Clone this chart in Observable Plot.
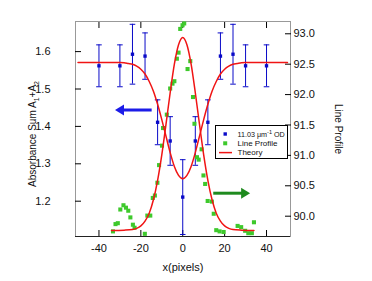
<!DOCTYPE html>
<html><head><meta charset="utf-8">
<script src="https://cdn.jsdelivr.net/npm/d3@7"></script>
<script src="https://cdn.jsdelivr.net/npm/@observablehq/plot@0.6"></script>
<style>
html,body{margin:0;padding:0;background:#fff;}
#chart{width:372px;height:281px;}
</style></head><body><div id="chart"></div>
<script>
// ---- data ----
const absX   = [-40, -30, -24, -18, -12, -6, 0, 6, 12, 18, 24, 30, 40];
const absY   = [1.562, 1.562, 1.593, 1.588, 1.411, 1.361, 1.211, 1.361, 1.411, 1.588, 1.593, 1.562, 1.562];
const absErr = [0.056, 0.056, 0.080, 0.062, 0.060, 0.065, 0.100, 0.065, 0.060, 0.062, 0.080, 0.056, 0.056];

const profX = [-33.3,-32.1,-31.0,-29.8,-28.3,-27.1,-26.0,-25.0,-23.8,-23.0,-18.1,-16.9,-15.5,-14.3,-13.3,-12.1,-11.3,-9.9,-9.4,-7.6,-6.0,-4.9,-4.0,-2.8,-2.0,-1.2,-0.1,0.7,2.3,3.6,4.9,5.6,6.8,7.6,9.0,9.9,10.7,11.9,13.9,14.8,16.0,17.6,19.5,26.2,27.9,29.8,31.3,33.0,34.0];
const profY = [89.75,89.87,89.885,90.11,90.18,90.14,90.09,89.98,89.86,89.81,89.71,90.01,90.01,90.30,90.34,90.55,90.84,91.16,91.45,91.67,92.10,92.18,92.22,92.59,92.69,93.08,93.14,93.17,92.42,92.55,91.96,91.52,90.97,90.93,91.10,90.67,90.53,90.25,90.24,90.04,89.77,89.75,89.74,89.84,89.82,89.76,89.72,89.72,89.90];

const absTheoryX = [-50,-40,-30,-28,-26,-24,-22,-20,-18,-16,-14,-12,-10,-8,-6,-4,-2,0,2,4,6,8,10,12,14,16,18,20,22,24,26,28,30,40,50];
const absTheoryY = [1.571,1.571,1.571,1.570,1.568,1.566,1.561,1.553,1.540,1.520,1.494,1.459,1.418,1.374,1.330,1.293,1.269,1.260,1.269,1.293,1.330,1.374,1.418,1.459,1.494,1.520,1.540,1.553,1.561,1.566,1.568,1.570,1.571,1.571,1.571];

const profTheoryX = [-34,-28,-24,-22,-20,-18,-16,-14,-12,-10,-8,-6,-4,-2,0,2,4,6,8,10,12,14,16,18,20,22,24,28,34];
const profTheoryY = [89.765,89.77,89.78,89.80,89.84,89.92,90.05,90.27,90.59,91.01,91.51,92.03,92.50,92.82,92.94,92.82,92.50,92.03,91.51,91.01,90.59,90.27,90.05,89.92,89.84,89.80,89.78,89.77,89.765];

const xTicks = [-40, -20, 0, 20, 40];
const leftTicks = [1.2, 1.3, 1.4, 1.5, 1.6];
const rightTicks = [90.0, 90.5, 91.0, 91.5, 92.0, 92.5, 93.0];

const legendLabels = ["11.03 \u03bcm", "Line Profile", "Theory"];
const xLabel = "x(pixels)";
const leftLabel = "Absorbance Sum A1+A2";
const rightLabel = "Line Profile";

// annotation arrows (data units)
const arrowAbs = {tail: -14.6, tip: -32.1, y: 1.4425};
const arrowProf = {tail: 14.8, tip: 32.4, r: 90.37};

// ---- scales ----
const xDomain = [-51.2, 51.45];
const leftDomain = [1.1056, 1.6805];
const rightDomain = [89.666, 93.202];
const k = (leftDomain[1] - leftDomain[0]) / (rightDomain[1] - rightDomain[0]);
const toLeft = r => leftDomain[0] + (r - rightDomain[0]) * k;
const fromLeft = v => rightDomain[0] + (v - leftDomain[0]) / k;

const BLUE = "#0a0ac8", GREEN = "#3ec92c", RED = "#f01414";

const absData = absX.map((x, i) => ({x, y: absY[i], e: absErr[i]}));
const caps = absData.flatMap(d => [{x: d.x, y: d.y + d.e}, {x: d.x, y: d.y - d.e}]);
const profData = profX.map((x, i) => ({x, y: toLeft(profY[i])}));
const absTheory = absTheoryX.map((x, i) => ({x, y: absTheoryY[i]}));
const profTheory = profTheoryX.map((x, i) => ({x, y: toLeft(profTheoryY[i])}));

const capSymbol = {draw(ctx) { ctx.moveTo(-2.8, 0); ctx.lineTo(2.8, 0); }};
const font = "'Liberation Sans', Arial, sans-serif";

const plot = Plot.plot({
  width: 372, height: 281,
  marginLeft: 75, marginRight: 82, marginTop: 21, marginBottom: 45,
  x: {domain: xDomain},
  y: {domain: leftDomain},
  style: {fontFamily: font, fontSize: "11px", background: "#fff", color: "#111"},
  marks: [
    Plot.frame({stroke: "#999"}),
    Plot.ruleY([leftDomain[0]], {stroke: "#222"}),
    // axes: labels
    Plot.axisX({anchor: "bottom", ticks: xTicks, tickSize: 0, tickPadding: 8, tickFormat: d => String(d), label: null, fontSize: 11}),
    Plot.axisY({anchor: "left", ticks: leftTicks, tickSize: 0, tickPadding: 25, tickFormat: d => d.toFixed(1), label: null, fontSize: 11}),
    Plot.axisY({anchor: "right", ticks: rightTicks.map(toLeft), tickSize: 0, tickPadding: 3, tickFormat: d => fromLeft(d).toFixed(1), label: null, fontSize: 11}),
    // axes: inner ticks
    Plot.axisX({anchor: "bottom", ticks: xTicks, tickSize: -6, tickFormat: () => "", label: null, stroke: "#000"}),
    Plot.axisX({anchor: "top", ticks: xTicks, tickSize: -6, tickFormat: () => "", label: null, stroke: "#000"}),
    Plot.axisY({anchor: "left", ticks: leftTicks, tickSize: -6, tickFormat: () => "", label: null, stroke: "#000"}),
    Plot.axisY({anchor: "right", ticks: rightTicks.map(toLeft), tickSize: -6, tickFormat: () => "", label: null, stroke: "#000"}),
    // data
    Plot.ruleX(absData, {x: "x", y1: d => d.y - d.e, y2: d => d.y + d.e, stroke: BLUE, strokeWidth: 1}),
    Plot.dot(caps, {x: "x", y: "y", symbol: capSymbol, stroke: BLUE, strokeWidth: 1, fill: "none"}),
    Plot.dot(profData, {x: "x", y: "y", symbol: "square", r: 2.3, fill: GREEN, stroke: null}),
    Plot.line(absTheory, {x: "x", y: "y", stroke: RED, strokeWidth: 1.5, curve: "monotone-x"}),
    Plot.line(profTheory, {x: "x", y: "y", stroke: RED, strokeWidth: 1.5, curve: "monotone-x"}),
    Plot.dot(absData, {x: "x", y: "y", symbol: "square", r: 1.9, fill: BLUE, stroke: null}),
    // axis titles
    Plot.text([xLabel], {text: d => d, frameAnchor: "bottom", dy: 31, textAnchor: "middle", lineAnchor: "middle", fontSize: 11, fill: "#111"}),
    Plot.text([leftLabel], {text: d => d, frameAnchor: "left", dx: -43, dy: 5, rotate: -90, textAnchor: "middle", lineAnchor: "middle", fontSize: 10, fill: "#111"}),
    Plot.text([rightLabel], {text: d => d, frameAnchor: "right", dx: 48, rotate: 90, textAnchor: "middle", lineAnchor: "middle", fontSize: 10, fill: "#111"})
  ]
});
document.getElementById("chart").appendChild(plot);

const svg = d3.select(plot);
// subscripts in the left title
svg.selectAll("text").filter(function() { return this.textContent === leftLabel; }).each(function() {
  const t = d3.select(this);
  t.text(null);
  t.append("tspan").text("Absorbance Sum A");
  t.append("tspan").attr("dy", 3).attr("font-size", 7).text("1");
  t.append("tspan").attr("dy", -3).text("+A");
  t.append("tspan").attr("dy", 3).attr("font-size", 7).text("2");
});

const sx = plot.scale("x"), sy = plot.scale("y");
function drawArrow(x1, x2, yPix, color) {
  const a = sx.apply(x1), b = sx.apply(x2);
  const dir = Math.sign(b - a), head = 9, half = 5.5;
  const base = b - dir * head;
  svg.append("line").attr("x1", a).attr("x2", base + dir * 1).attr("y1", yPix).attr("y2", yPix)
    .attr("stroke", color).attr("stroke-width", 3);
  svg.append("path").attr("d", `M${b},${yPix}L${base},${yPix - half}L${base},${yPix + half}Z`).attr("fill", color);
}
drawArrow(arrowAbs.tail, arrowAbs.tip, sy.apply(arrowAbs.y), "#1c1ce8");
drawArrow(arrowProf.tail, arrowProf.tip, sy.apply(toLeft(arrowProf.r)), "#1e8a1e");

// legend box
const lg = svg.append("g").attr("font-family", font).attr("font-size", 8).attr("fill", "#111").attr("text-anchor", "start");
const L = {x: 215.5, y: 125.5, w: 72, h: 33, row: 9.3, first: 134};
lg.append("rect").attr("x", L.x).attr("y", L.y).attr("width", L.w).attr("height", L.h).attr("fill", "#fff").attr("stroke", "#000");
const sym = [
  g => g.append("rect").attr("x", 223.5).attr("y", -1.7).attr("width", 3.4).attr("height", 3.4).attr("fill", BLUE),
  g => g.append("rect").attr("x", 223.2).attr("y", -2).attr("width", 4).attr("height", 4).attr("fill", GREEN),
  g => g.append("line").attr("x1", 219).attr("x2", 232).attr("stroke", RED).attr("stroke-width", 1.5)
];
legendLabels.forEach((lab, i) => {
  const g = lg.append("g").attr("transform", `translate(0,${L.first + i * L.row})`);
  sym[i](g);
  const t = g.append("text").attr("x", 237.5).attr("dy", "0.35em").attr("text-anchor", "start");
  t.append("tspan").text(lab);
  if (i === 0) {
    t.attr("font-size", 7.2);
    t.append("tspan").attr("dy", -3).attr("font-size", 5.5).text("-1");
    t.append("tspan").attr("dy", 3).text(" OD");
  }
});
</script></body></html>
